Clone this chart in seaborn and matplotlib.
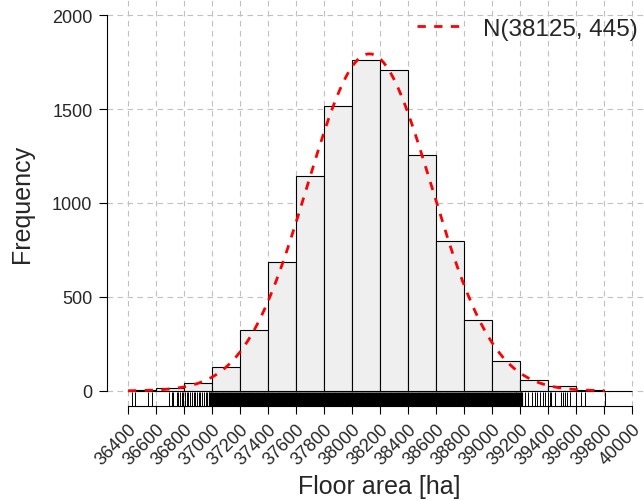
import numpy as np
import pandas as pd
import matplotlib
matplotlib.use("Agg")
import matplotlib.pyplot as plt
import seaborn as sns

# histogram of floor area (bin edges every 200 ha) and counts
bin_edges = [36400, 36600, 36800, 37000, 37200, 37400, 37600, 37800, 38000, 38200,
             38400, 38600, 38800, 39000, 39200, 39400, 39600, 39800, 40000]
counts = [7, 14, 41, 129, 324, 684, 1142, 1514, 1762, 1709,
          1255, 796, 378, 161, 57, 25, 3, 1]

# rug marks: sparse tails read individually, dense core sampled
rug_left = [36426, 36450, 36545, 36574, 36695, 36712, 36724, 36748, 36759, 36771,
            36784, 36795, 36807, 36819, 36830, 36843, 36855, 36870, 36882, 36890,
            36905, 36918, 36930, 36945, 36955, 36968, 36980, 36990]
rug_core = [37000, 37050, 37100, 37150, 37200, 37250, 37300, 37350, 37400, 37450,
            37500, 37550, 37600, 37650, 37700, 37750, 37800, 37850, 37900, 37950,
            38000, 38050, 38100, 38150, 38200, 38250, 38300, 38350, 38400, 38450,
            38500, 38550, 38600, 38650, 38700, 38750, 38800, 38850, 38900, 38950,
            39000, 39050, 39100, 39150, 39195]
rug_right = [39212, 39236, 39259, 39284, 39307, 39324, 39343, 39366, 39379, 39402,
             39414, 39426, 39450, 39498, 39509, 39521, 39538, 39557, 39605, 39640,
             39664, 39807]

# fitted normal
mu, sd = 38125, 445
y_ticks = [0, 500, 1000, 1500, 2000]

sns.set_theme(style="white")
plt.rcParams["font.family"] = ["Liberation Sans", "DejaVu Sans"]

fig = plt.figure(figsize=(6.44, 5.02), dpi=100)
ax = fig.add_axes([107 / 644, 95 / 502, 537 / 644, 406 / 502])

centers = [(a + b) / 2 for a, b in zip(bin_edges[:-1], bin_edges[1:])]
hist_df = pd.DataFrame({"area": centers, "n": counts})
sns.histplot(data=hist_df, x="area", weights="n", bins=bin_edges, ax=ax,
             color="#efefef", edgecolor="black", linewidth=0.8, alpha=1, zorder=2)

# normal curve scaled to counts
binw = bin_edges[1] - bin_edges[0]
n_total = sum(counts)
xs = np.linspace(bin_edges[0], max(rug_right), 400)
ys = n_total * binw * np.exp(-0.5 * ((xs - mu) / sd) ** 2) / (sd * np.sqrt(2 * np.pi))
ax.plot(xs, ys, color="red", lw=2, linestyle=(0, (3, 3)), zorder=3,
        label=f"N({mu}, {sd})")

# rug
sns.rugplot(x=rug_left + rug_right, ax=ax, height=0.034, color="black", linewidth=0.7)
sns.rugplot(x=rug_core, ax=ax, height=0.034, color="black", linewidth=5.2)

ax.set_xlim(36250, 40088)
ax.set_ylim(-80, 2080)
ax.set_xticks(bin_edges)
ax.set_xticklabels([str(v) for v in bin_edges], rotation=45, ha="right",
                   rotation_mode="anchor", fontsize=13)
ax.set_yticks(y_ticks)
ax.set_yticklabels([str(v) for v in y_ticks], fontsize=13)
ax.tick_params(axis="both", direction="out", length=5.5, width=0.8,
               color="black", pad=5, left=True, bottom=True)

ax.grid(True, color="#c0c0c0", linestyle=(0, (5, 4)), linewidth=0.8)
ax.set_axisbelow(True)

for s in ["top", "right"]:
    ax.spines[s].set_visible(False)
ax.spines["left"].set_bounds(0, 2000)
ax.spines["bottom"].set_bounds(36400, 40000)
for s in ["left", "bottom"]:
    ax.spines[s].set_color("black")
    ax.spines[s].set_linewidth(0.8)

ax.set_xlabel("Floor area [ha]", fontsize=18, va="center")
ax.set_ylabel("Frequency", fontsize=18, va="center")
ax.xaxis.set_label_coords(0.5065, -0.196)
ax.yaxis.set_label_coords(-0.158, 0.5)

ax.legend(loc="upper right", bbox_to_anchor=(1.006, 0.982), bbox_transform=fig.transFigure,
          borderaxespad=0, frameon=False, fontsize=17.5, handlelength=1.9,
          handletextpad=0.85)

fig.savefig("out.png", dpi=100)
